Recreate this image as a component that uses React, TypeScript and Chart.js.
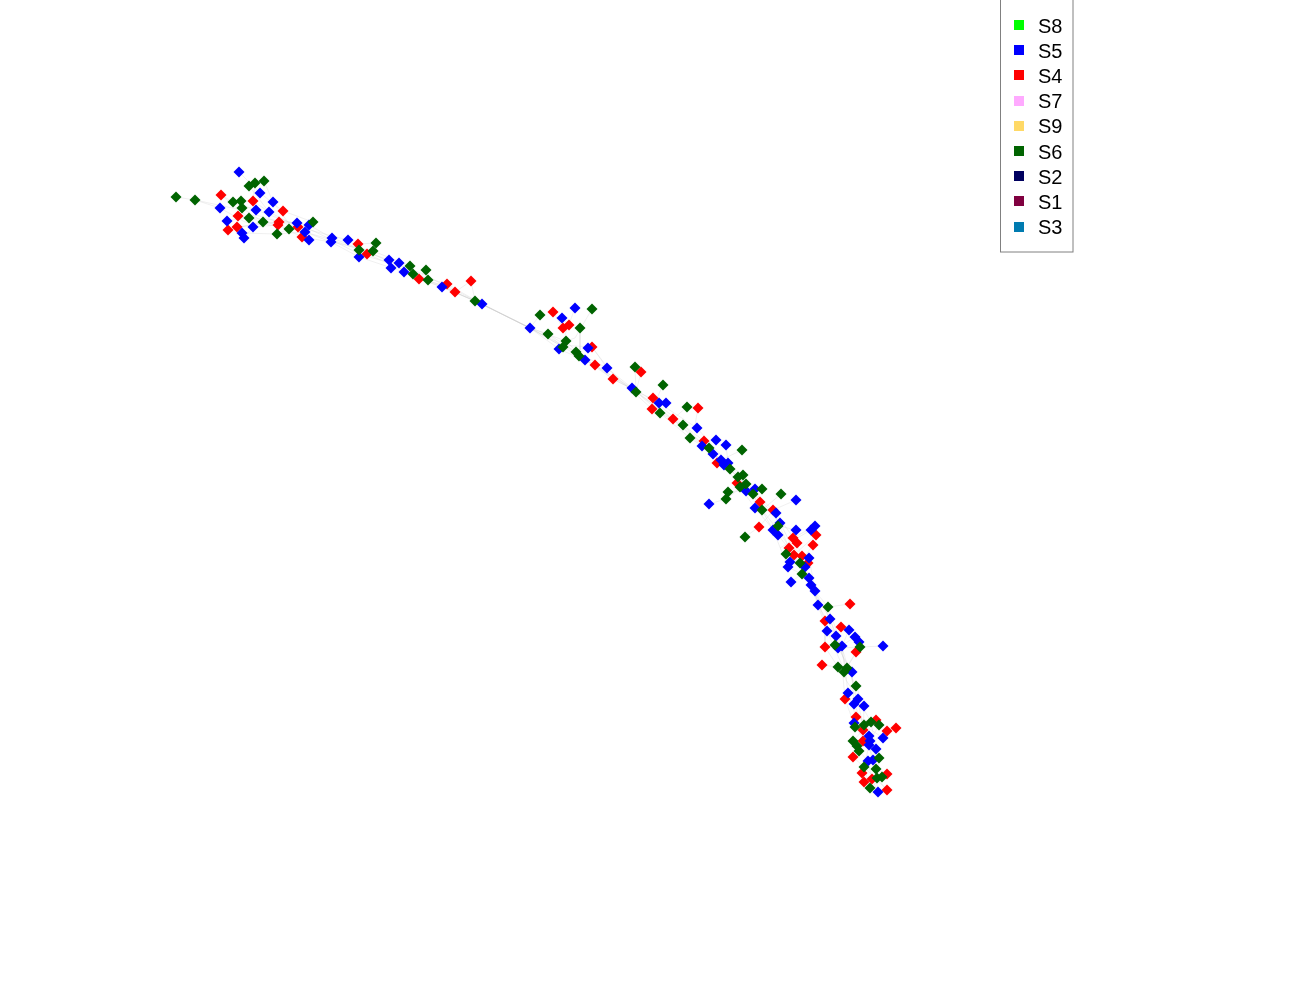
import React, { useEffect, useRef } from "react";
import { Chart, registerables } from "chart.js";

Chart.register(...registerables);

type P = [number, number];

const S5: P[] = [
  [239,172],[260,193],[273,202],[220,208],[256,210],[269,212],[227,221],[253,227],[242,233],[244,238],
  [297,223],[309,225],[305,232],[309,240],[332,238],[331,242],[348,240],[359,257],[389,260],[391,268],
  [399,263],[404,272],[442,287],[482,304],[530,328],[562,318],[575,308],[559,349],[588,348],[585,360],
  [607,368],[632,388],[659,403],[666,403],[697,428],[716,440],[726,445],[702,446],[713,454],[721,460],
  [724,465],[728,463],[746,491],[755,489],[709,504],[796,500],[755,508],[776,513],[780,523],[773,530],
  [778,535],[796,530],[811,530],[815,526],[790,562],[788,567],[809,558],[805,567],[791,582],[809,578],
  [811,585],[815,591],[818,605],[830,619],[827,631],[849,630],[836,636],[855,637],[859,642],[842,646],
  [838,648],[883,646],[852,672],[848,693],[858,699],[854,704],[864,706],[854,723],[869,736],[870,741],
  [869,745],[883,738],[876,749],[868,761],[873,760],[878,792],
];

const S4: P[] = [
  [221,195],[253,201],[283,211],[238,216],[237,227],[228,230],[279,222],[278,225],[298,227],[302,237],
  [358,244],[367,254],[419,279],[447,284],[455,292],[471,281],[553,312],[563,328],[569,325],[592,347],
  [595,365],[613,379],[641,372],[653,398],[652,409],[673,419],[698,408],[704,441],[717,463],[737,483],
  [760,502],[773,510],[759,527],[793,538],[797,543],[816,535],[813,545],[789,548],[794,555],[802,556],
  [808,563],[850,604],[825,621],[841,627],[825,647],[856,652],[822,665],[845,699],[856,717],[876,720],
  [863,730],[887,731],[896,728],[863,741],[853,757],[862,773],[887,774],[864,782],[872,779],[887,790],
];

const S6: P[] = [
  [176,197],[195,200],[249,186],[255,183],[264,181],[233,202],[241,201],[242,208],[249,218],[263,222],
  [277,234],[289,229],[313,222],[359,250],[376,243],[373,251],[410,266],[413,274],[426,270],[428,280],
  [475,301],[540,315],[548,334],[592,309],[580,328],[566,341],[563,347],[576,352],[579,356],[635,367],
  [636,392],[663,385],[660,413],[687,407],[683,425],[690,438],[709,448],[742,450],[730,469],[743,475],
  [738,477],[746,484],[740,487],[728,492],[726,499],[762,489],[753,494],[781,494],[762,510],[778,526],
  [745,537],[786,554],[800,563],[802,574],[828,607],[835,645],[860,647],[838,667],[847,668],[844,672],
  [856,686],[864,725],[871,722],[879,725],[855,727],[853,741],[857,746],[859,751],[879,758],[864,767],
  [876,769],[877,778],[882,777],[870,788],
];

const S8: P[] = [];
const S7: P[] = [];
const S9: P[] = [];
const S2: P[] = [];
const S1: P[] = [];
const S3: P[] = [];

const strands: P[][] = [
  [[220,208],[245,222],[280,226],[305,232],[332,240],[359,254],[390,263],[420,279],[447,286],[482,304],[530,328],[563,345],[585,358],[613,379],[636,391],[660,410],[690,433],[713,454],[730,469],[750,490],[775,515],[790,550],[810,585],[828,615],[842,648],[852,680],[858,702],[864,730],[869,745],[873,765],[878,790]],
  [[233,202],[256,210],[289,222],[309,225],[332,238],[358,248],[391,262],[426,275],[455,292],[475,301],[530,328],[548,334],[576,352],[607,368],[632,388],[653,400],[683,425],[704,441],[724,465],[746,484],[762,510],[778,530],[800,563],[815,591],[830,619],[844,660],[848,693],[856,717],[870,741],[864,767],[870,788]],
  [[221,195],[249,218],[278,225],[302,237],[331,242],[359,257],[404,272],[442,287],[482,304],[530,328],[559,349],[595,365],[636,392],[673,419],[702,446],[721,460],[740,487],[755,508],[778,535],[794,555],[811,585],[818,605],[836,636],[847,668],[856,686],[864,706],[863,741],[879,758],[877,778],[887,790]],
  [[253,201],[269,212],[298,227],[348,240],[367,254],[413,274],[447,284],[482,304],[530,328],[566,341],[585,360],[613,379],[659,403],[697,428],[728,463],[753,494],[773,530],[788,567],[809,578],[825,621],[838,648],[852,672],[854,704],[869,736],[859,751],[868,761],[872,779],[878,792]],
  [[263,222],[297,223],[332,240],[389,260],[428,280],[475,301],[530,328],[563,347],[579,356],[632,388],[660,413],[690,438],[716,455],[738,477],[776,513],[797,543],[805,567],[815,591],[828,607],[842,646],[846,680],[858,699],[871,722],[876,749],[873,760],[862,773],[864,782]],
  [[242,233],[277,234],[305,232],[331,242],[373,251],[410,266],[419,279],[442,287],[482,304],[530,328],[560,345],[592,347],[607,368],[652,409],[683,425],[713,454],[743,475],[760,502],[780,523],[793,548],[809,558],[818,605],[827,631],[842,665],[845,699],[855,727],[869,745],[876,769],[887,774]],
];

const spurs: P[][] = [
  [[176,197],[195,200],[220,208]],[[195,200],[242,210]],[[239,172],[260,193],[283,211]],[[249,186],[269,212]],
  [[255,183],[253,201]],[[264,181],[273,202],[290,225]],[[221,195],[233,202],[263,222]],[[227,221],[256,215],[300,228]],
  [[228,230],[263,222]],[[237,227],[279,222]],[[244,238],[253,227],[278,225]],[[238,216],[297,223]],[[283,211],[313,222]],
  [[277,234],[289,229]],[[358,244],[376,243]],[[373,251],[359,257]],[[426,270],[419,279]],[[471,281],[455,292]],
  [[471,281],[475,301]],[[540,315],[530,328]],[[553,312],[563,328]],[[562,318],[569,325]],[[575,308],[565,335]],
  [[592,309],[575,338],[566,341]],[[580,328],[580,350]],[[592,347],[608,368]],[[548,334],[560,345]],[[635,367],[636,392]],
  [[641,372],[636,392]],[[663,385],[652,409]],[[687,407],[673,419]],[[698,408],[695,425]],[[742,450],[721,460]],
  [[726,445],[728,463]],[[709,504],[726,499],[746,484]],[[728,492],[755,489]],[[745,537],[759,527],[772,512]],
  [[781,494],[762,510]],[[796,500],[773,510]],[[796,530],[775,525]],[[811,530],[780,548]],[[815,526],[793,538]],
  [[816,535],[794,555]],[[813,545],[800,563]],[[791,582],[802,574]],[[850,604],[828,607]],[[841,627],[833,645]],
  [[849,630],[842,646]],[[855,637],[838,648]],[[883,646],[838,648]],[[860,647],[844,672]],[[856,652],[845,670]],
  [[825,621],[825,647],[838,667]],[[822,665],[838,667]],[[896,728],[887,731],[869,745]],[[883,738],[864,725]],[[879,725],[870,741]],
  [[853,741],[863,730],[876,720]],[[853,757],[864,767]],[[887,774],[870,788]],[[887,790],[864,767]],[[856,717],[871,722]],
];

const edgeData = [...strands, ...spurs].flatMap((path) => [
  ...path.map(([x, y]) => ({ x, y })),
  { x: NaN, y: NaN },
]);

const toPts = (list: P[]) => list.map(([x, y]) => ({ x, y }));

const series = [
  { label: "S8", color: "#00ff00", data: S8, order: 0 },
  { label: "S5", color: "#0000ff", data: S5, order: 2 },
  { label: "S4", color: "#ff0000", data: S4, order: 3 },
  { label: "S7", color: "#ffaaff", data: S7, order: 0 },
  { label: "S9", color: "#ffd966", data: S9, order: 0 },
  { label: "S6", color: "#006400", data: S6, order: 1 },
  { label: "S2", color: "#00005f", data: S2, order: 0 },
  { label: "S1", color: "#800040", data: S1, order: 0 },
  { label: "S3", color: "#007bb0", data: S3, order: 0 },
];

const boxLegend = {
  id: "boxLegend",
  afterDraw(chart: any) {
    const { ctx } = chart;
    ctx.save();
    ctx.strokeStyle = "#808080";
    ctx.lineWidth = 1;
    ctx.strokeRect(1000.5, -2, 72.5, 254);
    ctx.font = '20px "Liberation Sans"';
    ctx.textBaseline = "middle";
    chart.data.datasets
      .filter((d: any) => d.label)
      .forEach((d: any, i: number) => {
        const cy = 25 + i * 25.2;
        ctx.fillStyle = d.backgroundColor;
        ctx.fillRect(1014, Math.round(cy) - 5, 10, 10);
        ctx.fillStyle = "#000";
        ctx.fillText(d.label, 1038, cy + 2);
      });
    ctx.restore();
  },
};

export default function App() {
  const ref = useRef<HTMLCanvasElement>(null);
  useEffect(() => {
    const chart = new Chart(ref.current!, {
      type: "scatter",
      data: {
        datasets: [
          {
            data: edgeData,
            showLine: true,
            spanGaps: false,
            borderColor: "rgba(200,200,200,0.28)",
            borderWidth: 1,
            pointRadius: 0,
            order: 10,
          } as any,
          ...series.map((s) => ({
            label: s.label,
            data: toPts(s.data),
            order: s.order,
            backgroundColor: s.color,
            borderWidth: 0,
            pointStyle: "rectRot",
            pointRadius: 5.5,
            pointHoverRadius: 5.5,
          })),
        ],
      },
      options: {
        animation: false,
        responsive: false,
        layout: { padding: 0, autoPadding: false },
        plugins: { legend: { display: false }, tooltip: { enabled: false } },
        scales: {
          x: { type: "linear", min: 0, max: 1300, display: false },
          y: { type: "linear", min: 0, max: 1000, reverse: true, display: false },
        },
      },
      plugins: [boxLegend],
    });
    return () => chart.destroy();
  }, []);
  return (
    <div style={{ position: "absolute", left: 0, top: 0 }}>
      <canvas ref={ref} width={1300} height={1000} style={{ display: "block" }} />
    </div>
  );
}
